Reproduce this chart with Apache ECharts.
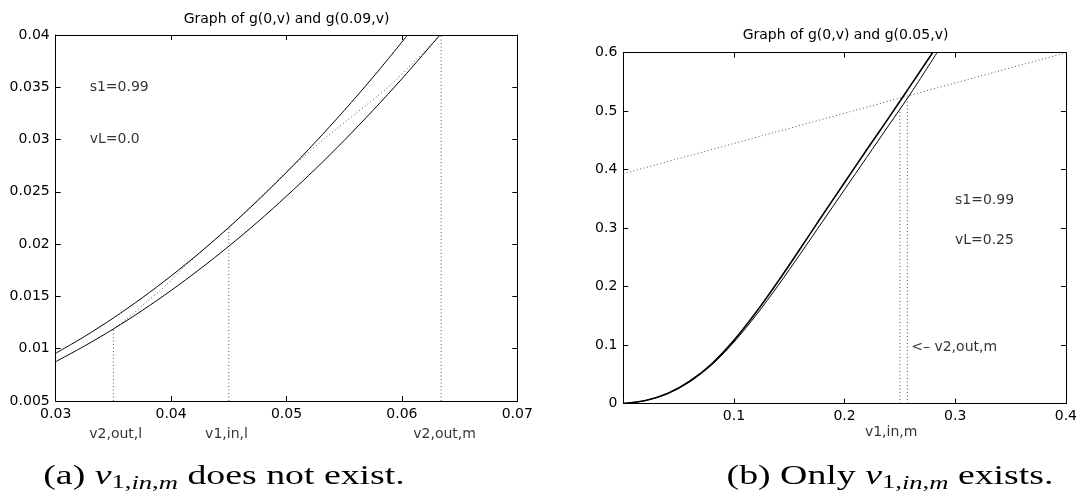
<!DOCTYPE html>
<html>
<head>
<meta charset="utf-8">
<script src="https://cdn.jsdelivr.net/npm/echarts@6/dist/echarts.min.js"></script>
<style>html,body{margin:0;padding:0;background:#fff}#c{width:1080px;height:498px}</style>
</head>
<body>
<div id="c"></div>
<script>
// ---------- data ----------
// Left panel: g(0,v) and g(0.09,v)
const leftUpperX = [0.030, 0.0325, 0.035, 0.0375, 0.040, 0.0425, 0.045, 0.0475, 0.050, 0.0525, 0.055, 0.0575, 0.0605];
const leftUpperY = [0.00956, 0.01117, 0.01294, 0.01487, 0.01696, 0.0192, 0.0216, 0.02416, 0.02687, 0.02975, 0.03278, 0.03597, 0.0400];
const leftLowerX = [0.030, 0.0325, 0.035, 0.0375, 0.040, 0.0425, 0.045, 0.0475, 0.050, 0.0525, 0.055, 0.0575, 0.060, 0.0633];
const leftLowerY = [0.00876, 0.01026, 0.01189, 0.01366, 0.01557, 0.01762, 0.0198, 0.02212, 0.02459, 0.02718, 0.02992, 0.0328, 0.03581, 0.0400];
const leftDotX = [0.035, 0.0361, 0.0379, 0.0396, 0.0413, 0.045, 0.0503, 0.0532, 0.056, 0.0589, 0.0621, 0.0633];
const leftDotY = [0.0119, 0.0128, 0.0145, 0.0161, 0.0180, 0.0216, 0.0272, 0.0300, 0.0325, 0.0351, 0.0386, 0.0400];
const leftVertX = [0.035, 0.045, 0.0634];
const leftVertTop = [0.0119, 0.0217, 0.0400];
const leftXTicks = [0.03, 0.07, 0.01];   // min, max, step
const leftYTicks = [0.005, 0.04, 0.005];

// Right panel: g(0,v) and g(0.05,v)
const rightX = [0, 0.02, 0.04, 0.06, 0.08, 0.10, 0.12, 0.14, 0.16, 0.18, 0.20, 0.22, 0.24, 0.26];
const rightAY = [0, 0.005, 0.017, 0.038, 0.068, 0.108, 0.156, 0.209, 0.265, 0.322, 0.378, 0.434, 0.489, 0.545];
const rightAEnd = [0.2795, 0.600];
const rightBY = [0, 0.005, 0.017, 0.037, 0.066, 0.105, 0.151, 0.202, 0.256, 0.311, 0.366, 0.421, 0.476, 0.531];
const rightBEnd = [0.2835, 0.600];
const rightDotX = [0, 0.4];
const rightDotY = [0.393, 0.600];
const rightVertX = [0.25, 0.2567];
const rightVertTop = [0.507, 0.526];
const rightXTicks = [0, 0.4, 0.1];
const rightYTicks = [0, 0.6, 0.1];

// annotations [x, y, text]
const leftNotes = [[0.0329, 0.035, 's1=0.99'], [0.0329, 0.030, 'vL=0.0']];
const leftBelow = [[0.0352, 'v2,out,l'], [0.0448, 'v1,in,l'], [0.0637, 'v2,out,m']];
const rightNotes = [[0.2993, 0.348, 's1=0.99'], [0.2993, 0.2785, 'vL=0.25'], [0.2598, 0.096, '<\u2013 v2,out,m']];
const rightBelow = [[0.2421, 'v1,in,m']];

// ---------- chart ----------
const SANS = "'DejaVu Sans', 'Liberation Sans', Arial, sans-serif";
const SERIF = "'Liberation Serif', 'Times New Roman', serif";
const FS = 14;
const zip = (xs, ys) => xs.map((x, i) => [x, ys[i]]);

function axisPair(gi, t, isX, labels) {
  const base = {
    gridIndex: gi, type: 'value', min: t[0], max: t[1], interval: t[2],
    axisLine: { show: true, onZero: false, lineStyle: { color: '#000', width: 1 } },
    axisTick: { show: true, inside: true, length: 5, lineStyle: { color: '#000', width: 1 } },
    splitLine: { show: false },
  };
  const main = Object.assign({}, base, {
    position: isX ? 'bottom' : 'left',
    axisLabel: Object.assign({ show: true, color: '#000', fontFamily: SANS, fontSize: FS, margin: isX ? 6 : 6 }, labels || {})
  });
  const other = Object.assign({}, base, { position: isX ? 'top' : 'right', axisLabel: { show: false } });
  return [main, other];
}

const grids = [
  { left: 55.7, top: 35, width: 461.6, height: 366 },
  { left: 623.3, top: 52.7, width: 444.4, height: 350.8 }
];

const xAxes = [...axisPair(0, leftXTicks, true), ...axisPair(1, rightXTicks, true, { showMinLabel: false })];
const yAxes = [...axisPair(0, leftYTicks, false), ...axisPair(1, rightYTicks, false)];

function lineSeries(xi, yi, data, opts) {
  return Object.assign({
    type: 'line', xAxisIndex: xi, yAxisIndex: yi, data: data, showSymbol: false, symbol: 'none',
    smooth: false, silent: true, lineStyle: { color: '#000', width: 1 }, z: 3
  }, opts || {});
}
const dotted = { color: '#555', width: 1, type: [1, 2.5] };

const series = [];
// left panel
series.push(lineSeries(0, 0, zip(leftUpperX, leftUpperY), { smooth: 0.3 }));
series.push(lineSeries(0, 0, zip(leftLowerX, leftLowerY), { smooth: 0.3 }));
series.push(lineSeries(0, 0, zip(leftDotX, leftDotY), { smooth: 0.3, lineStyle: dotted, z: 2 }));
leftVertX.forEach((x, i) => series.push(lineSeries(0, 0, [[x, leftYTicks[0]], [x, leftVertTop[i]]], { lineStyle: dotted, z: 2 })));
// right panel
series.push(lineSeries(2, 2, zip(rightX, rightAY).concat([rightAEnd]), { smooth: 0.3, lineStyle: { color: '#000', width: 1.6 } }));
series.push(lineSeries(2, 2, zip(rightX, rightBY).concat([rightBEnd]), { smooth: 0.3 }));
series.push(lineSeries(2, 2, zip(rightDotX, rightDotY), { lineStyle: dotted, z: 2 }));
rightVertX.forEach((x, i) => series.push(lineSeries(2, 2, [[x, rightYTicks[0]], [x, rightVertTop[i]]], { lineStyle: dotted, z: 2 })));

function textSeries(xi, yi, items, pos) {
  return {
    type: 'scatter', xAxisIndex: xi, yAxisIndex: yi, clip: false, silent: true,
    symbolSize: 1, itemStyle: { color: 'rgba(0,0,0,0)' },
    data: items.map(d => ({ value: [d[0], d[1]], name: d[2] })),
    label: {
      show: true, formatter: '{b}', position: pos, distance: 0, color: '#000',
      fontFamily: SANS, fontSize: FS, align: pos === 'inside' ? 'center' : 'left', verticalAlign: 'middle'
    }
  };
}
series.push(textSeries(0, 0, leftNotes, 'right'));
series.push(textSeries(2, 2, rightNotes, 'right'));
// labels below the axes (data y beyond min, drawn through the axis scale)
series.push(textSeries(0, 0, leftBelow.map(d => [d[0], 0.005 - 33 / 10457, d[1]]), 'inside'));
series.push(textSeries(2, 2, rightBelow.map(d => [d[0], -0.05, d[1]]), 'inside'));

const CAP = 27;
const capRich = {
  i: { fontFamily: SERIF, fontSize: CAP, fontStyle: 'italic', fill: '#000' },
  s: { fontFamily: SERIF, fontSize: 19, padding: [13, 0, 0, 0], fill: '#000' },
  si: { fontFamily: SERIF, fontSize: 19, fontStyle: 'italic', padding: [13, 0, 0, 0], fill: '#000' }
};
function cap(x, y, text) {
  return {
    type: 'text', x: x, y: y, scaleX: 1.4, silent: true,
    style: {
      text: text, rich: capRich, fill: '#000', font: CAP + 'px ' + SERIF,
      align: 'center', verticalAlign: 'middle', textAlign: 'center', textVerticalAlign: 'middle'
    }
  };
}
function ttl(x, y, text) {
  return {
    type: 'text', x: x, y: y, silent: true,
    style: { text: text, fill: '#000', font: FS + 'px ' + SANS, align: 'center', verticalAlign: 'middle', textAlign: 'center', textVerticalAlign: 'middle' }
  };
}

const option = {
  animation: false,
  backgroundColor: '#fff',
  grid: grids,
  xAxis: xAxes,
  yAxis: yAxes,
  series: series,
  graphic: [
    ttl(286.5, 19, 'Graph of g(0,v) and g(0.09,v)'),
    ttl(845.5, 35, 'Graph of g(0,v) and g(0.05,v)'),
    cap(224, 477, '(a) {i|v}{s|1,}{si|in}{s|,}{si|m} does not exist.'),
    cap(890, 477, '(b) Only {i|v}{s|1,}{si|in}{s|,}{si|m} exists.')
  ]
};
const chart = echarts.init(document.getElementById('c'), null, { renderer: 'canvas' });
chart.setOption(option);
</script>
</body>
</html>
